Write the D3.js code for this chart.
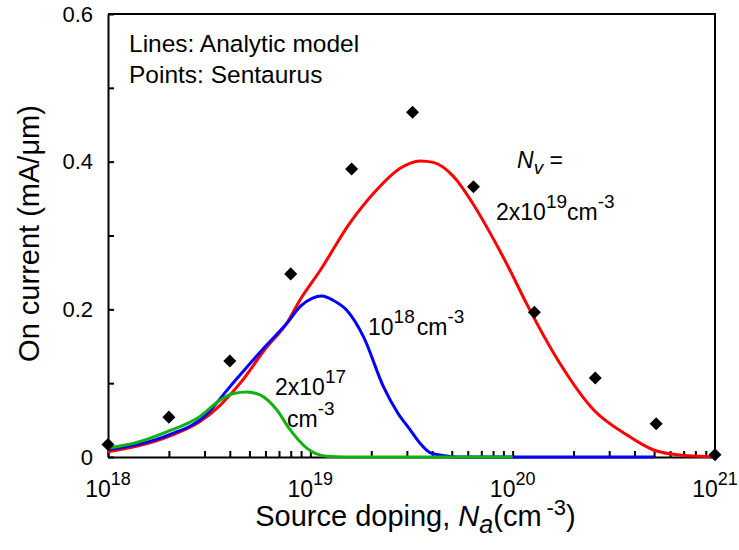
<!DOCTYPE html>
<html>
<head>
<meta charset="utf-8">
<script src="https://cdn.jsdelivr.net/npm/d3@7"></script>
<style>
  body { margin: 0; background: #fff; }
  svg { font-family: "Liberation Sans", Arial, sans-serif; }
  .axis path, .axis line { stroke: #000; stroke-width: 2; }
</style>
</head>
<body>
<div class="graph"></div>
<script>
// Sentaurus points (diamonds)
var pointsX = [1e18, 2e18, 4e18, 8e18, 1.6e19, 3.2e19, 6.4e19, 1.28e20, 2.56e20, 5.12e20, 1e21],
    pointsY = [0.017, 0.054, 0.130, 0.248, 0.390, 0.467, 0.366, 0.196, 0.107, 0.045, 0.003];

// analytic model, Nv = 2x10^19 cm^-3
var redX = [1e18, 2e18, 2.85e18, 3.58e18, 4.5e18, 6.09e18, 7.64e18, 8.9e18, 1.12e19, 1.57e19, 2.13e19, 2.78e19, 3.49e19, 4.05e19, 5.1e19, 6.4e19, 7.5e19, 9.7e19, 1.17e20, 1.71e20, 2.51e20, 3.66e20, 4.97e20, 6.5e20, 8.4e20, 1e21],
    redY = [0.007, 0.028, 0.048, 0.070, 0.100, 0.149, 0.181, 0.213, 0.253, 0.317, 0.362, 0.391, 0.401, 0.399, 0.380, 0.342, 0.310, 0.253, 0.208, 0.127, 0.064, 0.030, 0.0095, 0.003, 0.001, 0];

// Nv = 10^18 cm^-3
var blueX = [1e18, 2e18, 3e18, 4e18, 6e18, 7.6e18, 9e18, 1.02e19, 1.14e19, 1.3e19, 1.51e19, 1.83e19, 2.3e19, 2.7e19, 3.11e19, 3.5e19, 3.9e19, 4.5e19, 5.3e19, 5e20],
    blueY = [0.010, 0.030, 0.055, 0.095, 0.150, 0.180, 0.205, 0.215, 0.218, 0.212, 0.199, 0.163, 0.095, 0.060, 0.037, 0.018, 0.006, 0.002, 0, 0];

// Nv = 2x10^17 cm^-3
var greenX = [1e18, 1.4e18, 1.95e18, 2.85e18, 3.58e18, 4.17e18, 4.85e18, 5.64e18, 6.82e18, 7.94e18, 9.6e18, 1.2e19, 1.5e19, 1e20],
    greenY = [0.012, 0.020, 0.034, 0.055, 0.077, 0.086, 0.088, 0.084, 0.064, 0.037, 0.012, 0.001, 0, 0];

var yTicks = [0, 0.1, 0.2, 0.3, 0.4, 0.5, 0.6],
    yLabels = [0, 0.2, 0.4, 0.6],
    decades = [18, 19, 20, 21];

var width = 739, height = 550,
    margin = {top: 14, right: 24, bottom: 93, left: 108};

var x = d3.scaleLog().domain([1e18, 1e21]).range([margin.left, width - margin.right]),
    y = d3.scaleLinear().domain([0, 0.6]).range([height - margin.bottom, margin.top]);

var svg = d3.select('.graph')
            .append('svg')
            .attr('width', width)
            .attr('height', height);

// minor + major x ticks
var xTickValues = [];
for (var e = 18; e < 21; e++) {
  for (var m = 1; m < 10; m++) xTickValues.push(m * Math.pow(10, e));
}
xTickValues.push(1e21);

var xAxis = d3.axisBottom(x)
              .tickValues(xTickValues)
              .tickSizeInner(-6)
              .tickSizeOuter(0)
              .tickFormat('');

var yAxis = d3.axisLeft(y)
              .tickValues(yTicks)
              .tickSizeInner(-6)
              .tickSizeOuter(0)
              .tickFormat(function(d) { return yLabels.indexOf(d) >= 0 ? d3.format('')(d) : ''; });

// frame (top and right)
svg.append('path')
   .attr('d', 'M' + x(1e18) + ',' + y(0.6) + 'H' + x(1e21) + 'V' + y(0))
   .attr('fill', 'none')
   .attr('stroke', '#000')
   .attr('stroke-width', 2);

svg.append('g')
   .attr('class', 'x axis')
   .attr('transform', 'translate(0,' + y(0) + ')')
   .call(xAxis);

var gy = svg.append('g')
            .attr('class', 'y axis')
            .attr('transform', 'translate(' + x(1e18) + ',0)')
            .call(yAxis);

gy.selectAll('text')
  .attr('x', -15)
  .style('font-size', '22px')
  .style('font-family', '"Liberation Sans", Arial, sans-serif')
  .attr('fill', '#000');

// x tick labels 10^n
var xl = svg.selectAll('.xlabel')
            .data(decades)
            .enter()
            .append('text')
            .attr('class', 'xlabel')
            .attr('x', function(d) { return x(Math.pow(10, d)); })
            .attr('y', y(0) + 40)
            .attr('text-anchor', 'middle')
            .style('font-size', '23px');
xl.append('tspan').text('10');
xl.append('tspan').attr('dy', -12).style('font-size', '18px').text(function(d) { return d; });

// curves
var line = d3.line()
             .x(function(d) { return x(d[0]); })
             .y(function(d) { return y(d[1]); })
             .curve(d3.curveMonotoneX);

var series = [
  {xs: redX, ys: redY, color: '#ff0000'},
  {xs: blueX, ys: blueY, color: '#0000ff'},
  {xs: greenX, ys: greenY, color: '#12b012'}
];

svg.selectAll('.curve')
   .data(series)
   .enter()
   .append('path')
   .attr('class', 'curve')
   .attr('fill', 'none')
   .attr('stroke', function(s) { return s.color; })
   .attr('stroke-width', 3)
   .attr('d', function(s) { return line(s.xs.map(function(v, i) { return [v, s.ys[i]]; })); });

// diamonds
var diamond = d3.symbol().type(d3.symbolSquare).size(85);
svg.selectAll('.pt')
   .data(pointsX.map(function(v, i) { return [v, pointsY[i]]; }))
   .enter()
   .append('path')
   .attr('class', 'pt')
   .attr('d', diamond)
   .attr('fill', '#000')
   .attr('transform', function(d) { return 'translate(' + x(d[0]) + ',' + y(d[1]) + ') rotate(45)'; });

// axis titles
svg.append('text')
   .attr('transform', 'translate(39,' + ((y(0) + y(0.6)) / 2 - 2) + ') rotate(-90)')
   .attr('text-anchor', 'middle')
   .style('font-size', '29px')
   .text('On current (mA/\u03bcm)');

var xt = svg.append('text')
            .attr('x', (x(1e18) + x(1e21)) / 2 + 4)
            .attr('y', 526)
            .attr('text-anchor', 'middle')
            .style('font-size', '29px');
xt.append('tspan').text('Source doping, ');
xt.append('tspan').style('font-style', 'italic').text('N');
xt.append('tspan').attr('dy', 7).style('font-style', 'italic').style('font-size', '25px').text('a');
xt.append('tspan').attr('dy', -7).text('(cm');
xt.append('tspan').attr('dy', -11).attr('dx', 5).style('font-size', '22px').text('-3');
xt.append('tspan').attr('dy', 11).text(')');

// notes
svg.append('text').attr('x', 129).attr('y', 52).style('font-size', '24.5px').text('Lines: Analytic model');
svg.append('text').attr('x', 129).attr('y', 83).style('font-size', '24.5px').text('Points: Sentaurus');

function superLabel(px, py, parts) {
  var t = svg.append('text').attr('x', px).attr('y', py).style('font-size', '23px');
  parts.forEach(function(p) {
    t.append('tspan')
     .attr('dy', p.dy || 0)
     .attr('dx', p.dx || 0)
     .style('font-size', p.size || null)
     .style('font-style', p.italic ? 'italic' : null)
     .text(p.text);
  });
}

superLabel(517, 168, [
  {text: 'N', italic: true},
  {text: 'v', italic: true, dy: 6, size: '19px'},
  {text: ' =', dy: -6}
]);
superLabel(496, 220, [
  {text: '2x10'},
  {text: '19', dy: -12, size: '19px'},
  {text: 'cm', dy: 12},
  {text: '-3', dy: -12, size: '19px'}
]);
superLabel(368, 335, [
  {text: '10'},
  {text: '18', dy: -12, size: '19px'},
  {text: 'cm', dy: 12, dx: 2},
  {text: '-3', dy: -12, size: '19px'}
]);
superLabel(275, 395, [
  {text: '2x10'},
  {text: '17', dy: -12, size: '19px'}
]);
superLabel(287, 427, [
  {text: 'cm'},
  {text: '-3', dy: -12, size: '19px'}
]);
</script>
</body>
</html>
